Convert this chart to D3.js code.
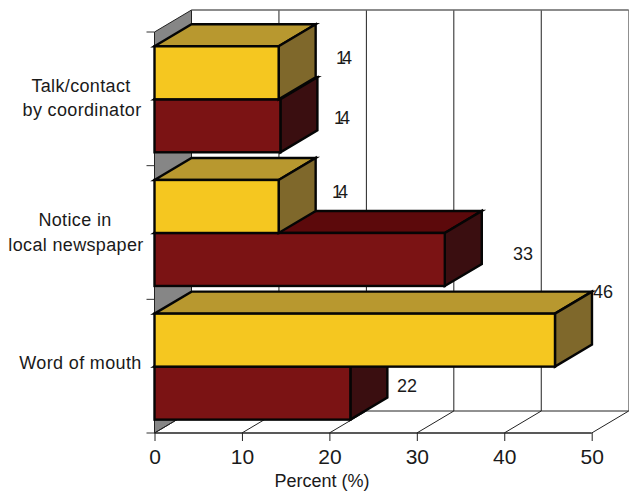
<!DOCTYPE html>
<html><head><meta charset="utf-8">
<script src="https://cdn.jsdelivr.net/npm/d3@7"></script>
<style>html,body{margin:0;padding:0;background:#fff}svg{display:block}text{font-family:"Liberation Sans",Arial,sans-serif;fill:#1a1a1a}</style>
</head><body><svg id="c" width="629" height="493"></svg>
<script>
const categories=[["Talk/contact","by coordinator"],["Notice in","local newspaper"],["Word of mouth"]];
const categoryKeys=["Talk","Notice","Word"];
const yellowValues=[14.2,14.2,45.8];
const redValues=[14.4,33.2,22.4];
const xTicks=[0,10,20,30,40,50];
const svg=d3.select("#c");
const x=d3.scaleLinear().domain([0,50]).range([154.5,591.7]);
const y=d3.scaleBand().domain(categoryKeys).range([32,433]);
const dx=37,dy=-22,floorY=433,topY=32;
const inner=14.3,barH=53;
const gridCol="#222";
// walls
svg.append("path").attr("d",`M${x(0)},${floorY}L${x(0)},${topY}L${x(0)+dx},${topY+dy}L${x(0)+dx},${floorY+dy}Z`).attr("fill","#868686").attr("stroke","#222").attr("stroke-width",1);
xTicks.forEach(t=>{
  const g=t===50?"#777":gridCol;
  svg.append("line").attr("x1",x(t)+dx).attr("x2",x(t)+dx).attr("y1",topY+dy).attr("y2",floorY+dy).attr("stroke",g);
  if(t>0)svg.append("line").attr("x1",x(t)).attr("x2",x(t)+dx).attr("y1",floorY).attr("y2",floorY+dy).attr("stroke",gridCol);
});
svg.append("line").attr("x1",x(0)+dx).attr("x2",x(50)+dx).attr("y1",topY+dy).attr("y2",topY+dy).attr("stroke","#666").attr("stroke-width",1.5);
svg.append("line").attr("x1",x(0)+dx).attr("x2",x(50)+dx).attr("y1",floorY+dy).attr("y2",floorY+dy).attr("stroke",gridCol);
svg.append("line").attr("x1",x(0)).attr("x2",x(0)+dx).attr("y1",floorY).attr("y2",floorY+dy).attr("stroke",gridCol);
// x axis
const ax=svg.append("g").attr("transform",`translate(0,${floorY})`).call(d3.axisBottom(x).tickValues(xTicks).tickSize(8).tickPadding(8).tickFormat(d3.format("d")));
ax.select(".domain").attr("stroke","#222").attr("stroke-width",1.4).attr("d",`M${x(0)},0H${x(50)}`);
ax.selectAll(".tick line").attr("stroke","#222");
ax.selectAll(".tick text").attr("font-size",21).attr("font-family",'"Liberation Sans",Arial,sans-serif').style("fill","#1a1a1a");
// y axis
svg.append("line").attr("x1",x(0)).attr("x2",x(0)).attr("y1",topY).attr("y2",floorY).attr("stroke","#222");
[...categoryKeys.map(k=>y(k)),floorY].forEach(p=>svg.append("line").attr("x1",x(0)-8).attr("x2",x(0)).attr("y1",p).attr("y2",p).attr("stroke","#333"));
function box(v,top,cols){
  const x0=x(0),x1=x(v),b=top+barH;
  const g=svg.append("g").attr("stroke","#050505").attr("stroke-width",2.4).attr("stroke-linejoin","miter");
  g.append("path").attr("d",`M${x0},${top}L${x0+dx},${top+dy}L${x1+dx},${top+dy}L${x1},${top}Z`).attr("fill",cols[1]);
  g.append("path").attr("d",`M${x1},${top}L${x1+dx},${top+dy}L${x1+dx},${b+dy}L${x1},${b}Z`).attr("fill",cols[2]);
  g.append("rect").attr("x",x0).attr("y",top).attr("width",x1-x0).attr("height",barH).attr("fill",cols[0]);
}
categoryKeys.forEach((k,i)=>{
  const t=y(k)+inner;
  box(redValues[i],t+barH,["#7b1314","#5c090b","#3a0e10"]);
  box(yellowValues[i],t,["#f5c720","#b8982f","#7f682b"]);
});
// category labels
const labelY=[[86,110],[220,245],[363]],labelX=[[81,82],[75,76],[80.5]];
categories.forEach((lines,i)=>lines.forEach((s,j)=>{
  svg.append("text").attr("x",labelX[i][j]).attr("y",labelY[i][j]+6).attr("text-anchor","middle").attr("font-size",18).attr("letter-spacing",0.35).text(s);
}));
// value labels
const fmt=d3.format(".0f");
const yellowLabelPos=[[342,58],[338,192],[603,292]];
const redLabelPos=[[340,118],[523,254],[407,386]];
const addLab=(v,p)=>svg.append("text").attr("x",p[0]).attr("y",p[1]+6).attr("text-anchor","middle").attr("font-size",18).attr("letter-spacing",fmt(v)==="14"?-4:0).text(fmt(v));
yellowValues.forEach((v,i)=>addLab(v,yellowLabelPos[i]));
redValues.forEach((v,i)=>addLab(v,redLabelPos[i]));
svg.append("text").attr("x",322).attr("y",487).attr("text-anchor","middle").attr("font-size",18).text("Percent (%)");
</script></body></html>
